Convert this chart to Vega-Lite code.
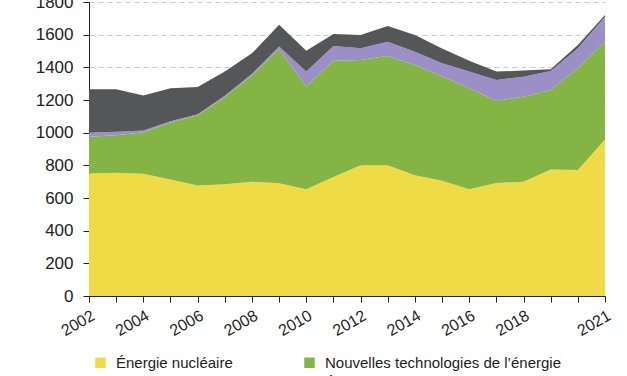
{
  "$schema": "https://vega.github.io/schema/vega-lite/v6.json",
  "width": 516,
  "height": 294,
  "autosize": {"type": "none"},
  "padding": {"left": 89, "top": 2, "right": 22, "bottom": 80},
  "background": "white",
  "config": {
    "view": {"stroke": null},
    "font": "Liberation Sans",
    "axis": {"labelFont": "Liberation Sans", "labelColor": "#222", "domainColor": "#222", "tickColor": "#222"}
  },
  "data": {"values": [
    {"annee": 2002, "source": "Énergie nucléaire", "ordre": 1, "valeur": 750},
    {"annee": 2003, "source": "Énergie nucléaire", "ordre": 1, "valeur": 755},
    {"annee": 2004, "source": "Énergie nucléaire", "ordre": 1, "valeur": 748},
    {"annee": 2005, "source": "Énergie nucléaire", "ordre": 1, "valeur": 714},
    {"annee": 2006, "source": "Énergie nucléaire", "ordre": 1, "valeur": 676},
    {"annee": 2007, "source": "Énergie nucléaire", "ordre": 1, "valeur": 684},
    {"annee": 2008, "source": "Énergie nucléaire", "ordre": 1, "valeur": 700},
    {"annee": 2009, "source": "Énergie nucléaire", "ordre": 1, "valeur": 690},
    {"annee": 2010, "source": "Énergie nucléaire", "ordre": 1, "valeur": 653},
    {"annee": 2011, "source": "Énergie nucléaire", "ordre": 1, "valeur": 728},
    {"annee": 2012, "source": "Énergie nucléaire", "ordre": 1, "valeur": 800},
    {"annee": 2013, "source": "Énergie nucléaire", "ordre": 1, "valeur": 800},
    {"annee": 2014, "source": "Énergie nucléaire", "ordre": 1, "valeur": 740},
    {"annee": 2015, "source": "Énergie nucléaire", "ordre": 1, "valeur": 705},
    {"annee": 2016, "source": "Énergie nucléaire", "ordre": 1, "valeur": 653},
    {"annee": 2017, "source": "Énergie nucléaire", "ordre": 1, "valeur": 692},
    {"annee": 2018, "source": "Énergie nucléaire", "ordre": 1, "valeur": 700},
    {"annee": 2019, "source": "Énergie nucléaire", "ordre": 1, "valeur": 775},
    {"annee": 2020, "source": "Énergie nucléaire", "ordre": 1, "valeur": 772},
    {"annee": 2021, "source": "Énergie nucléaire", "ordre": 1, "valeur": 958},
    {"annee": 2002, "source": "Nouvelles technologies de l’énergie", "ordre": 2, "valeur": 225},
    {"annee": 2003, "source": "Nouvelles technologies de l’énergie", "ordre": 2, "valeur": 229},
    {"annee": 2004, "source": "Nouvelles technologies de l’énergie", "ordre": 2, "valeur": 255},
    {"annee": 2005, "source": "Nouvelles technologies de l’énergie", "ordre": 2, "valeur": 348},
    {"annee": 2006, "source": "Nouvelles technologies de l’énergie", "ordre": 2, "valeur": 429},
    {"annee": 2007, "source": "Nouvelles technologies de l’énergie", "ordre": 2, "valeur": 534},
    {"annee": 2008, "source": "Nouvelles technologies de l’énergie", "ordre": 2, "valeur": 650},
    {"annee": 2009, "source": "Nouvelles technologies de l’énergie", "ordre": 2, "valeur": 820},
    {"annee": 2010, "source": "Nouvelles technologies de l’énergie", "ordre": 2, "valeur": 629},
    {"annee": 2011, "source": "Nouvelles technologies de l’énergie", "ordre": 2, "valeur": 713},
    {"annee": 2012, "source": "Nouvelles technologies de l’énergie", "ordre": 2, "valeur": 645},
    {"annee": 2013, "source": "Nouvelles technologies de l’énergie", "ordre": 2, "valeur": 670},
    {"annee": 2014, "source": "Nouvelles technologies de l’énergie", "ordre": 2, "valeur": 675},
    {"annee": 2015, "source": "Nouvelles technologies de l’énergie", "ordre": 2, "valeur": 640},
    {"annee": 2016, "source": "Nouvelles technologies de l’énergie", "ordre": 2, "valeur": 619},
    {"annee": 2017, "source": "Nouvelles technologies de l’énergie", "ordre": 2, "valeur": 504},
    {"annee": 2018, "source": "Nouvelles technologies de l’énergie", "ordre": 2, "valeur": 520},
    {"annee": 2019, "source": "Nouvelles technologies de l’énergie", "ordre": 2, "valeur": 486},
    {"annee": 2020, "source": "Nouvelles technologies de l’énergie", "ordre": 2, "valeur": 622},
    {"annee": 2021, "source": "Nouvelles technologies de l’énergie", "ordre": 2, "valeur": 599},
    {"annee": 2002, "source": "Recherche fondamentale", "ordre": 3, "valeur": 25},
    {"annee": 2003, "source": "Recherche fondamentale", "ordre": 3, "valeur": 22},
    {"annee": 2004, "source": "Recherche fondamentale", "ordre": 3, "valeur": 10},
    {"annee": 2005, "source": "Recherche fondamentale", "ordre": 3, "valeur": 8},
    {"annee": 2006, "source": "Recherche fondamentale", "ordre": 3, "valeur": 7},
    {"annee": 2007, "source": "Recherche fondamentale", "ordre": 3, "valeur": 8},
    {"annee": 2008, "source": "Recherche fondamentale", "ordre": 3, "valeur": 10},
    {"annee": 2009, "source": "Recherche fondamentale", "ordre": 3, "valeur": 17},
    {"annee": 2010, "source": "Recherche fondamentale", "ordre": 3, "valeur": 92},
    {"annee": 2011, "source": "Recherche fondamentale", "ordre": 3, "valeur": 90},
    {"annee": 2012, "source": "Recherche fondamentale", "ordre": 3, "valeur": 72},
    {"annee": 2013, "source": "Recherche fondamentale", "ordre": 3, "valeur": 87},
    {"annee": 2014, "source": "Recherche fondamentale", "ordre": 3, "valeur": 81},
    {"annee": 2015, "source": "Recherche fondamentale", "ordre": 3, "valeur": 80},
    {"annee": 2016, "source": "Recherche fondamentale", "ordre": 3, "valeur": 102},
    {"annee": 2017, "source": "Recherche fondamentale", "ordre": 3, "valeur": 127},
    {"annee": 2018, "source": "Recherche fondamentale", "ordre": 3, "valeur": 123},
    {"annee": 2019, "source": "Recherche fondamentale", "ordre": 3, "valeur": 117},
    {"annee": 2020, "source": "Recherche fondamentale", "ordre": 3, "valeur": 123},
    {"annee": 2021, "source": "Recherche fondamentale", "ordre": 3, "valeur": 153},
    {"annee": 2002, "source": "Énergies fossiles (hors nucléaire)", "ordre": 4, "valeur": 266},
    {"annee": 2003, "source": "Énergies fossiles (hors nucléaire)", "ordre": 4, "valeur": 260},
    {"annee": 2004, "source": "Énergies fossiles (hors nucléaire)", "ordre": 4, "valeur": 215},
    {"annee": 2005, "source": "Énergies fossiles (hors nucléaire)", "ordre": 4, "valeur": 202},
    {"annee": 2006, "source": "Énergies fossiles (hors nucléaire)", "ordre": 4, "valeur": 168},
    {"annee": 2007, "source": "Énergies fossiles (hors nucléaire)", "ordre": 4, "valeur": 148},
    {"annee": 2008, "source": "Énergies fossiles (hors nucléaire)", "ordre": 4, "valeur": 126},
    {"annee": 2009, "source": "Énergies fossiles (hors nucléaire)", "ordre": 4, "valeur": 133},
    {"annee": 2010, "source": "Énergies fossiles (hors nucléaire)", "ordre": 4, "valeur": 128},
    {"annee": 2011, "source": "Énergies fossiles (hors nucléaire)", "ordre": 4, "valeur": 73},
    {"annee": 2012, "source": "Énergies fossiles (hors nucléaire)", "ordre": 4, "valeur": 81},
    {"annee": 2013, "source": "Énergies fossiles (hors nucléaire)", "ordre": 4, "valeur": 96},
    {"annee": 2014, "source": "Énergies fossiles (hors nucléaire)", "ordre": 4, "valeur": 102},
    {"annee": 2015, "source": "Énergies fossiles (hors nucléaire)", "ordre": 4, "valeur": 90},
    {"annee": 2016, "source": "Énergies fossiles (hors nucléaire)", "ordre": 4, "valeur": 66},
    {"annee": 2017, "source": "Énergies fossiles (hors nucléaire)", "ordre": 4, "valeur": 51},
    {"annee": 2018, "source": "Énergies fossiles (hors nucléaire)", "ordre": 4, "valeur": 37},
    {"annee": 2019, "source": "Énergies fossiles (hors nucléaire)", "ordre": 4, "valeur": 10},
    {"annee": 2020, "source": "Énergies fossiles (hors nucléaire)", "ordre": 4, "valeur": 20},
    {"annee": 2021, "source": "Énergies fossiles (hors nucléaire)", "ordre": 4, "valeur": 11}
  ]},
  "mark": {"type": "area", "interpolate": "linear"},
  "encoding": {
    "x": {
      "field": "annee", "type": "quantitative",
      "scale": {"domain": [2002, 2021], "nice": false, "zero": false},
      "axis": {
        "title": null,
        "values": [2002, 2003, 2004, 2005, 2006, 2007, 2008, 2009, 2010, 2011, 2012, 2013, 2014, 2015, 2016, 2017, 2018, 2019, 2020, 2021],
        "labelExpr": "(datum.value % 2 == 0 && datum.value != 2020) || datum.value == 2021 ? datum.value : ''",
        "format": "d",
        "labelAngle": -30,
        "labelAlign": "right",
        "labelBaseline": "top",
        "labelFontSize": 16,
        "labelPadding": 5,
        "tickSize": 6,
        "grid": false,
        "labelOverlap": false,
        "labelFlush": false
      }
    },
    "y": {
      "field": "valeur", "type": "quantitative", "aggregate": "sum",
      "stack": "zero",
      "scale": {"domain": [0, 1800], "nice": false},
      "axis": {
        "title": null,
        "values": [0, 200, 400, 600, 800, 1000, 1200, 1400, 1600, 1800],
        "format": "d",
        "labelFontSize": 17,
        "labelPadding": 10,
        "tickSize": 6,
        "grid": true,
        "gridDash": [5, 4],
        "gridColor": "#c8c8c8",
        "gridWidth": 1
      }
    },
    "order": {"field": "ordre", "type": "quantitative", "sort": "ascending"},
    "color": {
      "field": "source", "type": "nominal",
      "scale": {
        "domain": ["Énergie nucléaire", "Nouvelles technologies de l’énergie", "Recherche fondamentale", "Énergies fossiles (hors nucléaire)"],
        "range": ["#EEDB45", "#84B443", "#9C8FC7", "#555658"]
      },
      "legend": {
        "title": null,
        "orient": "none",
        "legendX": 4,
        "legendY": 353,
        "columns": 2,
        "direction": "horizontal",
        "symbolType": "square",
        "symbolSize": 110,
        "symbolStrokeWidth": 0,
        "labelFontSize": 15,
        "labelColor": "#222",
        "labelOffset": 8,
        "columnPadding": 18,
        "rowPadding": 4,
        "labelLimit": 400
      }
    }
  }
}
